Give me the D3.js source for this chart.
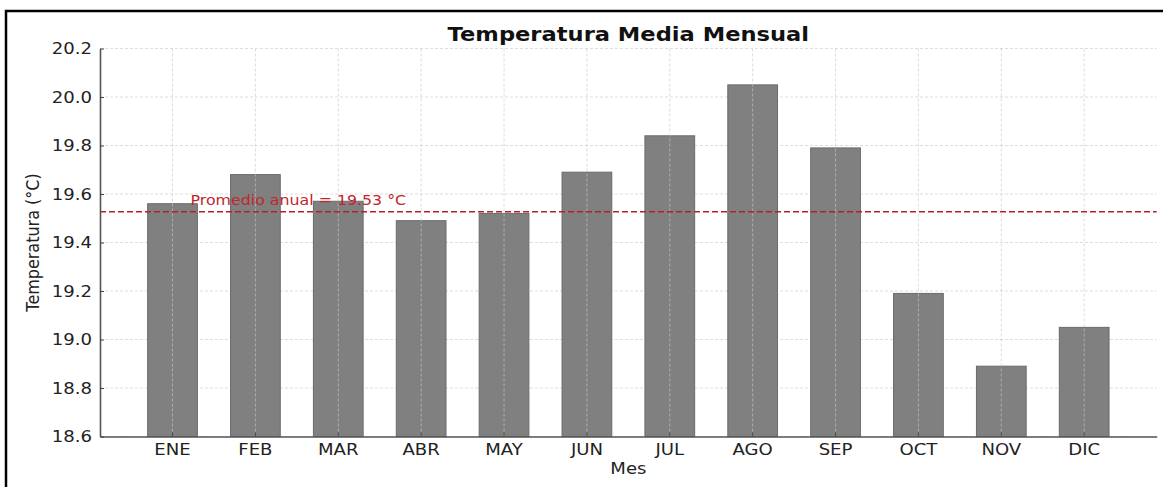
<!DOCTYPE html>
<html lang="es">
<head>
<meta charset="utf-8">
<title>Temperatura Media Mensual</title>
<script src="https://cdn.jsdelivr.net/npm/d3@7"></script>
<style>
  body { margin: 0; background: #fff; }
  text { font-family: "DejaVu Sans", sans-serif; }
</style>
</head>
<body>
<script>
// data
var meses = ["ENE", "FEB", "MAR", "ABR", "MAY", "JUN", "JUL", "AGO", "SEP", "OCT", "NOV", "DIC"];
var temperaturas = [19.56, 19.68, 19.57, 19.49, 19.52, 19.69, 19.84, 20.05, 19.79, 19.19, 18.89, 19.05];
var yTicks = [18.6, 18.8, 19.0, 19.2, 19.4, 19.6, 19.8, 20.0, 20.2];

var promedio = d3.mean(temperaturas);

var W = 1163, H = 487;
var margin = {top: 48.5, right: 6.3, bottom: 50.5, left: 100};
var w = W - margin.left - margin.right,
    h = H - margin.top - margin.bottom;
var sx = 1.13; // the original picture is a bit wider than tall, text looks stretched

var svg = d3.select("body").append("svg")
    .attr("width", W)
    .attr("height", H);

// frame around the figure (only top and left visible)
svg.append("path")
    .attr("d", "M6," + H + " V11 H" + W)
    .attr("fill", "none")
    .attr("stroke", "#000")
    .attr("stroke-width", 2.5);

var g = svg.append("g")
    .attr("transform", "translate(" + margin.left + "," + margin.top + ")");

var x = d3.scaleBand()
    .domain(meses)
    .range([0, w])
    .paddingInner(0.4)
    .paddingOuter(0.575);

var y = d3.scaleLinear()
    .domain([18.6, 20.2])
    .range([h, 0]);

// horizontal grid, behind bars
g.append("g")
    .selectAll("line")
    .data(yTicks)
    .enter().append("line")
    .attr("x1", 0).attr("x2", w)
    .attr("y1", function(d) { return y(d); })
    .attr("y2", function(d) { return y(d); })
    .attr("stroke", "#d4d4d4")
    .attr("stroke-width", 0.8)
    .attr("stroke-dasharray", "3,2");

// bars
g.append("g")
    .selectAll("rect")
    .data(temperaturas)
    .enter().append("rect")
    .attr("x", function(d, i) { return x(meses[i]); })
    .attr("y", function(d) { return y(d); })
    .attr("width", x.bandwidth())
    .attr("height", function(d) { return h - y(d); })
    .attr("fill", "#808080")
    .attr("stroke", "#6a6a6a")
    .attr("stroke-width", 1);

// vertical grid, drawn on top of the bars
g.append("g")
    .selectAll("line")
    .data(meses)
    .enter().append("line")
    .attr("x1", function(d) { return x(d) + x.bandwidth() / 2; })
    .attr("x2", function(d) { return x(d) + x.bandwidth() / 2; })
    .attr("y1", 0).attr("y2", h)
    .attr("stroke", "#c8c8c8")
    .attr("stroke-opacity", 0.8)
    .attr("stroke-width", 0.8)
    .attr("stroke-dasharray", "3,2");

// mean line
g.append("line")
    .attr("x1", 0).attr("x2", w)
    .attr("y1", y(promedio)).attr("y2", y(promedio))
    .attr("stroke", "#b22222")
    .attr("stroke-width", 1.4)
    .attr("stroke-dasharray", "6,3");

g.append("text")
    .attr("transform", "translate(" + (x(meses[0]) + x.bandwidth() / 2 + 18) + "," + (y(promedio) - 7) + ") scale(" + sx + ",1)")
    .attr("fill", "#c0262c")
    .attr("font-size", 14)
    .text("Promedio anual = " + promedio.toFixed(2) + " °C");

// axes
var xAxis = g.append("g")
    .attr("transform", "translate(0," + h + ")")
    .call(d3.axisBottom(x).tickSizeInner(-4).tickSizeOuter(0).tickPadding(7));

var yAxis = g.append("g")
    .call(d3.axisLeft(y).tickValues(yTicks).tickFormat(d3.format(".1f"))
        .tickSizeInner(-4).tickSizeOuter(0).tickPadding(7));

[xAxis, yAxis].forEach(function(a) {
    a.select(".domain").attr("stroke", "#555").attr("stroke-width", 1.6);
    a.selectAll(".tick line").attr("stroke", "#444").attr("stroke-width", 1);
    a.selectAll(".tick text").attr("fill", "#222").attr("font-size", 16)
        .attr("font-family", "DejaVu Sans, sans-serif")
        .attr("transform", "scale(" + sx + ",1)");
});

// labels
svg.append("text")
    .attr("transform", "translate(" + (margin.left + w / 2) + ",41) scale(" + sx + ",1)")
    .attr("text-anchor", "middle")
    .attr("font-size", 20)
    .attr("font-weight", "bold")
    .attr("fill", "#111")
    .text("Temperatura Media Mensual");

svg.append("text")
    .attr("transform", "translate(" + (margin.left + w / 2) + ",474) scale(" + sx + ",1)")
    .attr("text-anchor", "middle")
    .attr("font-size", 16)
    .attr("fill", "#222")
    .text("Mes");

svg.append("text")
    .attr("transform", "translate(39," + (margin.top + h / 2) + ") rotate(-90) scale(1," + sx + ")")
    .attr("text-anchor", "middle")
    .attr("font-size", 16)
    .attr("fill", "#222")
    .text("Temperatura (°C)");
</script>
</body>
</html>
